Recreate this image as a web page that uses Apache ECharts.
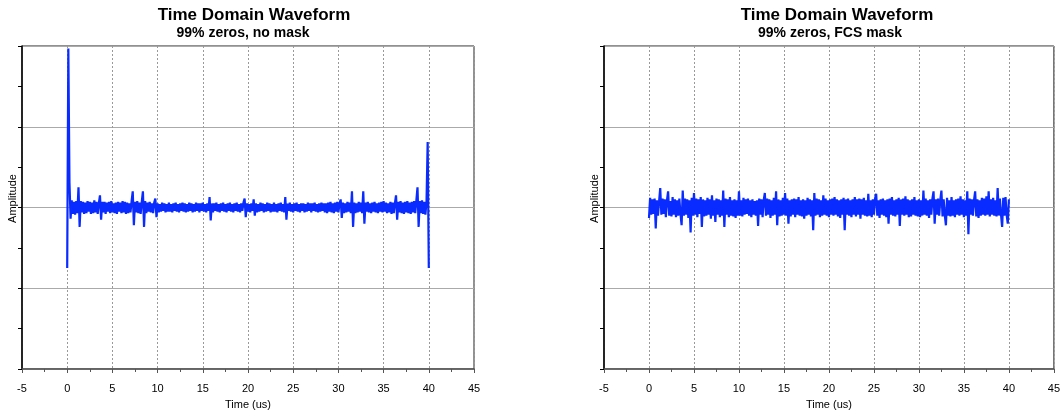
<!DOCTYPE html>
<html>
<head>
<meta charset="utf-8">
<script src="https://cdn.jsdelivr.net/npm/echarts@6/dist/echarts.min.js"></script>
<style>
html,body{margin:0;padding:0;background:#fff;}
#c{width:1063px;height:415px;}
</style>
</head>
<body>
<div id="c"></div>
<script>
// ---- data ----
const mainTitle = 'Time Domain Waveform';
const subTitles = ['99% zeros, no mask', '99% zeros, FCS mask'];
const xAxisName = 'Time (us)';
const yAxisName = 'Amplitude';
const xTicks = [-5, 0, 5, 10, 15, 20, 25, 30, 35, 40, 45];
const sampleStepUs = 0.125; // sampling interval of the waveform (us)

// Panel 1: 99% zeros, no mask (one row = 2 us)
const ampNoMask = [
 -0.75, 1.97, 0.31, -0.14, 0.09, -0.08, 0.07, -0.09, 0.08, -0.07, 0.25, -0.24, 0.08, -0.06, 0.07, -0.08,
 0.06, -0.07, 0.08, -0.05, 0.07, -0.08, 0.06, -0.07, 0.09, -0.06, 0.07, -0.08, 0.05, 0.15, -0.15, 0.07,
 -0.06, 0.07, -0.08, 0.06, -0.05, 0.07, -0.07, 0.08, -0.06, 0.05, -0.07, 0.06, -0.08, 0.07, -0.05, 0.06,
 -0.07, 0.08, -0.06, 0.07, -0.08, 0.06, -0.07, 0.05, -0.06, 0.08, 0.2, -0.22, 0.07, -0.06, 0.08, -0.07,
 0.06, -0.08, 0.07, 0.2, -0.24, 0.08, -0.07, 0.06, -0.05, 0.07, -0.06, 0.05, -0.07, 0.06, 0.11, -0.12,
 0.05, -0.06, 0.04, -0.05, 0.06, -0.04, 0.05, -0.06, 0.04, -0.05, 0.06, -0.05, 0.04, -0.06, 0.05, -0.04,
 0.06, -0.05, 0.04, -0.06, 0.05, -0.04, 0.06, -0.05, 0.05, -0.06, 0.04, -0.05, 0.06, -0.04, 0.05, -0.06,
 0.04, -0.05, 0.06, -0.04, 0.05, -0.06, 0.05, -0.04, 0.06, -0.05, 0.04, -0.06, 0.05, -0.04, 0.13, -0.16,
 0.05, -0.06, 0.05, -0.04, 0.06, -0.05, 0.04, -0.06, 0.05, -0.04, 0.06, -0.05, 0.04, -0.06, 0.05, -0.04,
 0.06, -0.05, 0.04, -0.06, 0.05, -0.04, 0.06, -0.05, 0.04, -0.06, 0.05, -0.04, 0.06, 0.11, -0.12, 0.05,
 -0.05, 0.04, -0.06, 0.05, -0.04, 0.1, -0.1, 0.05, -0.06, 0.04, -0.05, 0.06, -0.04, 0.05, -0.06, 0.04,
 -0.05, 0.06, -0.04, 0.05, -0.06, 0.04, -0.05, 0.06, -0.05, 0.04, -0.06, 0.05, -0.04, 0.06, -0.05, 0.04,
 -0.06, 0.13, -0.15, 0.05, -0.04, 0.06, -0.05, 0.04, -0.06, 0.05, -0.04, 0.06, -0.05, 0.04, -0.06, 0.05,
 -0.04, 0.05, -0.06, 0.04, -0.05, 0.06, -0.04, 0.05, -0.06, 0.05, -0.04, 0.06, -0.05, 0.04, -0.06, 0.05,
 -0.05, 0.06, -0.04, 0.05, -0.06, 0.05, -0.07, 0.06, -0.05, 0.07, -0.06, 0.05, -0.07, 0.06, -0.05, 0.07,
 -0.06, 0.05, 0.1, -0.13, 0.06, -0.07, 0.05, -0.06, 0.07, -0.05, 0.06, -0.07, 0.2, -0.24, 0.06, -0.07,
 0.05, -0.06, 0.07, -0.05, 0.06, -0.07, 0.2, -0.2, 0.06, -0.05, 0.07, -0.06, 0.05, -0.07, 0.06, -0.05,
 0.07, -0.06, 0.05, -0.07, 0.06, -0.05, 0.07, -0.06, 0.08, -0.05, 0.06, -0.07, 0.05, -0.06, 0.07, -0.08,
 0.06, -0.07, 0.05, 0.15, -0.15, 0.07, -0.06, 0.08, -0.07, 0.06, -0.08, 0.07, -0.06, 0.08, -0.07, 0.06,
 -0.08, 0.07, -0.06, 0.08, -0.07, 0.09, 0.25, -0.24, 0.08, -0.07, 0.09, -0.08, 0.07, -0.09, 0.08, 0.81,
 -0.75
];

// Panel 2: 99% zeros, FCS mask (one row = 2 us)
const ampFcsMask = [
 -0.13, 0.12, -0.09, 0.1, -0.08, 0.11, -0.26, 0.09, -0.1, 0.08, 0.24, -0.09, 0.11, -0.08, 0.1, -0.12,
 0.09, 0.2, -0.1, 0.08, -0.11, 0.13, -0.09, 0.1, -0.12, 0.09, -0.1, 0.11, -0.08, -0.22, 0.21, -0.1,
 0.11, -0.09, 0.1, -0.13, 0.09, -0.31, 0.12, -0.1, 0.18, -0.09, 0.11, -0.12, 0.1, -0.08, 0.13, -0.24,
 0.1, -0.11, 0.09, -0.1, 0.12, -0.09, 0.1, -0.14, 0.15, -0.1, 0.09, -0.18, 0.11, -0.09, 0.1, -0.12,
 0.09, -0.1, 0.21, -0.24, 0.11, -0.09, 0.1, -0.12, 0.13, -0.1, 0.09, -0.11, 0.1, -0.13, 0.09, -0.1,
 0.2, -0.1, 0.09, -0.11, 0.12, -0.09, 0.1, -0.08, 0.11, -0.1, 0.09, -0.12, 0.1, -0.09, 0.08, -0.1,
 0.09, -0.23, 0.11, -0.09, 0.1, -0.12, 0.09, 0.18, -0.1, 0.11, -0.09, 0.1, -0.13, 0.09, -0.1, 0.12,
 -0.09, 0.2, -0.22, 0.1, -0.11, 0.09, -0.1, 0.12, -0.09, 0.18, -0.1, 0.11, -0.2, 0.09, -0.11, 0.1,
 -0.09, 0.11, -0.12, 0.1, -0.09, 0.13, -0.1, 0.09, -0.11, 0.1, -0.14, 0.09, -0.1, 0.12, -0.09, 0.1,
 -0.11, 0.09, -0.28, 0.18, -0.1, 0.11, -0.09, 0.1, -0.12, 0.09, -0.1, 0.15, -0.09, 0.11, -0.1, 0.09,
 -0.12, 0.1, -0.09, 0.11, -0.1, 0.13, -0.09, 0.1, -0.11, 0.09, -0.13, 0.1, -0.09, 0.12, -0.28, 0.1,
 -0.09, 0.11, -0.1, 0.09, -0.12, 0.1, -0.09, 0.13, -0.11, 0.1, -0.09, 0.11, -0.14, 0.1, -0.09, 0.12,
 -0.1, 0.09, -0.11, 0.17, -0.1, 0.09, -0.12, 0.1, -0.09, 0.11, 0.17, -0.1, 0.09, -0.13, 0.1, -0.09,
 0.11, -0.1, 0.09, -0.12, 0.1, -0.2, 0.11, -0.09, 0.13, -0.1, 0.09, -0.11, 0.1, -0.09, 0.12, -0.23,
 0.1, -0.09, 0.11, -0.1, 0.14, -0.09, 0.1, -0.12, 0.09, -0.11, 0.1, -0.09, 0.13, -0.1, 0.09, -0.11,
 0.1, -0.12, 0.09, -0.1, 0.21, -0.09, 0.11, -0.1, 0.09, -0.13, 0.1, -0.09, 0.11, 0.2, -0.2, 0.1,
 -0.09, 0.11, -0.1, 0.09, 0.21, -0.11, 0.1, -0.09, -0.22, 0.12, -0.1, 0.09, -0.11, 0.13, -0.1, 0.09,
 -0.12, 0.1, -0.09, 0.11, -0.1, 0.14, -0.09, 0.1, -0.12, 0.09, -0.1, 0.2, -0.33, 0.11, -0.09, 0.1,
 -0.1, 0.09, 0.2, -0.11, 0.1, -0.13, 0.09, -0.1, 0.12, -0.09, 0.11, -0.1, 0.14, -0.09, 0.2, -0.11,
 0.1, -0.09, 0.12, -0.1, 0.09, -0.11, 0.24, -0.1, 0.11, -0.09, -0.24, 0.12, -0.1, 0.13, -0.09, -0.2,
 0.1
];

// ---- chart ----
const FONT = 'Liberation Sans, Arial, sans-serif';
function pairs(vals) { return vals.map((v, i) => [i * sampleStepUs, v]); }

const grids = [
  { left: 22, top: 46, width: 452, height: 323 },
  { left: 604, top: 46, width: 452, height: 323 }
];
const titleCenters = [249, 832];
const subCenters = [238, 825];

function xAxisFor(gi) {
  return {
    type: 'value', gridIndex: gi, min: -5, max: 45, interval: 5,
    name: xAxisName, nameLocation: 'middle', nameGap: 30,
    nameTextStyle: { fontFamily: FONT, fontSize: 11, color: '#000' },
    axisLine: { show: true, onZero: false, lineStyle: { color: '#555', width: 1.5 } },
    axisTick: { show: true, length: 4, lineStyle: { color: '#555' } },
    minorTick: { show: true, splitNumber: 2, length: 3, lineStyle: { color: '#555' } },
    axisLabel: { fontFamily: FONT, fontSize: 11, color: '#000', margin: 14,
      formatter: v => (xTicks.indexOf(v) >= 0 ? String(v) : '') },
    splitLine: { show: true, lineStyle: { color: '#999', type: [2, 2], width: 1 } }
  };
}
function yAxisFor(gi) {
  return {
    type: 'value', gridIndex: gi, min: -2, max: 2, interval: 1,
    name: yAxisName, nameLocation: 'middle', nameGap: 4, nameRotate: 90,
    nameTextStyle: { fontFamily: FONT, fontSize: 11, color: '#000', padding: [0, 0, 0, 18] },
    axisLine: { show: true, onZero: false, lineStyle: { color: '#000', width: 1.5 } },
    axisTick: { show: true, length: 4, lineStyle: { color: '#000' } },
    minorTick: { show: true, splitNumber: 2, length: 4, lineStyle: { color: '#000' } },
    axisLabel: { show: false },
    splitLine: { show: true, lineStyle: { color: '#aaa', width: 1 } }
  };
}

const chart = echarts.init(document.getElementById('c'), null, { renderer: 'canvas' });
chart.setOption({
  animation: false,
  backgroundColor: '#fff',
  title: [0, 1].flatMap(i => [
    { text: mainTitle, left: titleCenters[i], top: 2, textAlign: 'center',
      textStyle: { fontFamily: FONT, fontSize: 17, fontWeight: 'bold', color: '#000' } },
    { text: subTitles[i], left: subCenters[i], top: 21, textAlign: 'center',
      textStyle: { fontFamily: FONT, fontSize: 14, fontWeight: 'bold', color: '#000' } }
  ]),
  grid: grids.map(g => Object.assign({ show: true, borderColor: '#222', borderWidth: 1, backgroundColor: 'transparent' }, g)),
  xAxis: [xAxisFor(0), xAxisFor(1)],
  yAxis: [yAxisFor(0), yAxisFor(1)],
  series: [
    { type: 'line', xAxisIndex: 0, yAxisIndex: 0, data: pairs(ampNoMask), showSymbol: false,
      sampling: null, lineStyle: { color: '#0a2bff', width: 2.2 }, z: 3 },
    { type: 'line', xAxisIndex: 1, yAxisIndex: 1, data: pairs(ampFcsMask), showSymbol: false,
      sampling: null, lineStyle: { color: '#0a2bff', width: 2.2 }, z: 3 }
  ]
});
</script>
</body>
</html>
